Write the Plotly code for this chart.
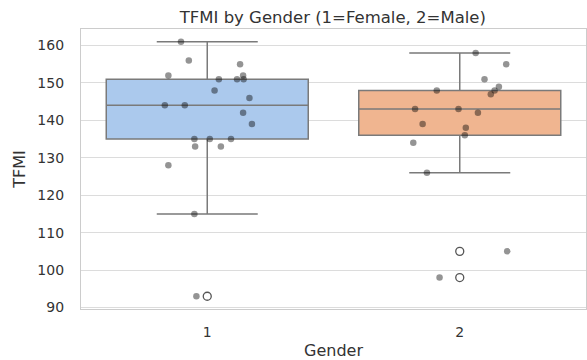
import plotly.graph_objects as go

# ---- data ----
categories = ["1", "2"]
tfmi_female = [161, 156, 155, 152, 152, 151, 151, 151, 148, 146, 144, 144, 142, 139,
               135, 135, 135, 133, 133, 128, 115, 93]
jitter_female = [-0.104, -0.073, 0.130, -0.154, 0.142, 0.046, 0.118, 0.144, 0.029, 0.167,
                 -0.168, -0.089, 0.142, 0.177, -0.051, 0.010, 0.094, -0.048, 0.054, -0.154,
                 -0.051, -0.043]
tfmi_male = [158, 155, 151, 149, 148, 147, 148, 143, 143, 142, 139, 138, 136, 134, 126, 105, 98]
jitter_male = [0.063, 0.184, 0.098, 0.155, 0.138, 0.123, -0.091, -0.177, -0.005, 0.072,
               -0.147, 0.024, 0.020, -0.184, -0.130, 0.188, -0.080]
y_ticks = [90, 100, 110, 120, 130, 140, 150, 160]

FONT = "DejaVu Sans"
box_fill = ["#abc9ed", "#f0b590"]
edge = "#7a7a7a"
text_color = "#333333"

fig = go.Figure()
groups = [tfmi_female, tfmi_male]
jitters = [jitter_female, jitter_male]
for i, (vals, fill) in enumerate(zip(groups, box_fill)):
    fig.add_trace(go.Box(
        y=vals, x0=i, width=0.8, quartilemethod="inclusive",
        boxpoints="outliers", jitter=0, pointpos=0,
        fillcolor=fill, line=dict(color=edge, width=1.5),
        whiskerwidth=0.5,
        marker=dict(symbol="circle", size=8, color="white",
                    outliercolor="white",
                    line=dict(color="#555555", width=1.3, outliercolor="#555555", outlierwidth=1.3)),
        showlegend=False, hoverinfo="y",
    ))
for i, (vals, jit) in enumerate(zip(groups, jitters)):
    fig.add_trace(go.Scatter(
        x=[i + j for j in jit], y=vals, mode="markers",
        marker=dict(size=6.5, color="rgba(0,0,0,0.42)", line=dict(width=0)),
        showlegend=False, hoverinfo="y",
    ))

fig.update_layout(
    width=587, height=360,
    margin=dict(l=81, r=1, t=29, b=51),
    paper_bgcolor="white", plot_bgcolor="white",
    boxmode="overlay",
    font=dict(family=FONT, size=14, color=text_color),
    title=dict(text="TFMI by Gender (1=Female, 2=Male)", x=0.567, xanchor="center",
               y=0.952, yanchor="middle", font=dict(family=FONT, size=16.5, color=text_color)),
)
fig.update_xaxes(
    range=[-0.5, 1.5], tickvals=[0, 1], ticktext=categories,
    showgrid=False, zeroline=False, ticks="", ticklabelstandoff=10,
    showline=True, mirror=True, linecolor="#cccccc", linewidth=1.25,
    title=dict(text="Gender", standoff=6, font=dict(family=FONT, size=16, color=text_color)),
)
fig.update_yaxes(
    range=[89.6, 164.4], tickvals=y_ticks,
    showgrid=True, gridcolor="#dcdcdc", gridwidth=1, zeroline=False,
    ticks="", ticklabelstandoff=13,
    showline=True, mirror=True, linecolor="#cccccc", linewidth=1.25,
    title=dict(text="TFMI", standoff=7, font=dict(family=FONT, size=16, color=text_color)),
)

fig.write_html("out.html")
